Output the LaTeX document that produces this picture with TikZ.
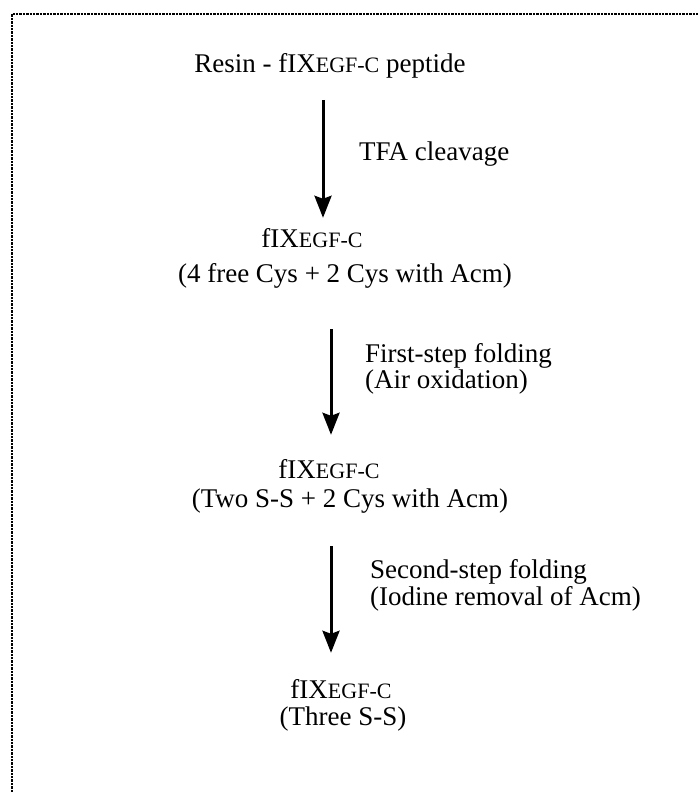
\documentclass[tikz,border=0pt]{standalone}
\usepackage{fontspec}
\setmainfont{Liberation Serif}
\usetikzlibrary{arrows.meta}
\newcommand{\fix}{fIX{\fontsize{22}{22}\selectfont EGF-C}}
\begin{document}
\begin{tikzpicture}[x=1pt, y=-1pt,
  every node/.style={inner sep=0pt, font=\fontsize{27}{29}\selectfont},
  stage/.style={anchor=base},
  steplabel/.style={anchor=base west},
  flow/.style={line width=3pt, -{Stealth[length=22pt, width=17pt, inset=3pt]}},
  frame/.style={line width=2.4pt, densely dotted}]
\useasboundingbox (0,0) rectangle (699,792);
\draw[frame] (12,792) -- (12,14) -- (699,14);

\node[stage] (res) at (330,73) {Resin - \fix{} peptide};
\node[stage] (s1) at (312,247) {\fix};
\node[stage] (s1note) at (345,282) {(4 free Cys + 2 Cys with Acm)};
\node[stage] (s2) at (329,478) {\fix};
\node[stage] (s2note) at (350,507) {(Two S-S + 2 Cys with Acm)};
\node[stage] (s3) at (341,698) {\fix};
\node[stage] (s3note) at (343,725) {(Three S-S)};

\node[steplabel] (l1) at (359,160) {TFA cleavage};
\node[steplabel] (l2a) at (365,362) {First-step folding};
\node[steplabel] (l2b) at (365,388) {(Air oxidation)};
\node[steplabel] (l3a) at (370,578) {Second-step folding};
\node[steplabel] (l3b) at (370,605) {(Iodine removal of Acm)};

\coordinate (ax1) at (323,0);
\coordinate (ax2) at (331,0);
\draw[flow, shorten <=21pt, shorten >=10pt] (res.south -| ax1) -- (s1.north -| ax1);
\draw[flow, shorten <=41pt, shorten >=24pt] (s1note.south -| ax2) -- (s2.north -| ax2);
\draw[flow, shorten <=33pt, shorten >=26pt] (s2note.south -| ax2) -- (s3.north -| ax2);
\end{tikzpicture}
\end{document}
